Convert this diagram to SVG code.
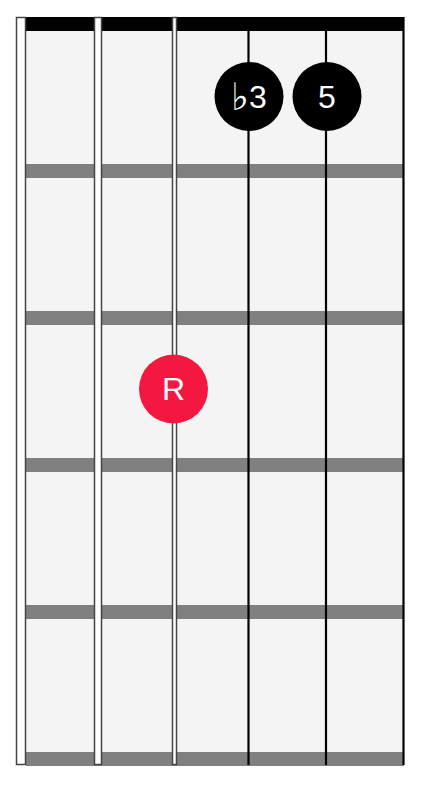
<svg xmlns="http://www.w3.org/2000/svg" width="426" height="786" viewBox="0 0 426 786">
<style>
.fret{fill:#808080}
.wound{fill:#ffffff;stroke:#444444;stroke-width:1.5}
.plain{stroke:#000000;stroke-width:2.2}
.lbl{fill:#ffffff;font-family:"Liberation Sans",Arial,sans-serif;font-size:32px;text-anchor:middle;dominant-baseline:central}
.flat{font-family:"DejaVu Sans",sans-serif;font-size:38px}
</style>
<rect width="426" height="786" fill="#ffffff"/>
<g id="board">
<rect x="26" y="17" width="378" height="749" fill="#f4f4f4"/>
<rect x="26" y="17" width="378" height="14" fill="#000000"/>
<rect class="fret" x="26" y="164" width="378" height="14"/>
<rect class="fret" x="26" y="311" width="378" height="14"/>
<rect class="fret" x="26" y="458" width="378" height="14"/>
<rect class="fret" x="26" y="605" width="378" height="14"/>
<rect class="fret" x="26" y="752" width="378" height="14"/>
</g>
<g id="strings">
<rect class="wound" x="16.5" y="17.5" width="9" height="747"/>
<rect class="wound" x="94.5" y="17.5" width="7" height="747"/>
<rect class="wound" x="172.5" y="17.5" width="4" height="747"/>
<line class="plain" x1="248.5" y1="17" x2="248.5" y2="765"/>
<line class="plain" x1="326" y1="17" x2="326" y2="765"/>
<line class="plain" x1="403.5" y1="17" x2="403.5" y2="765"/>
</g>
<g id="note-b3">
<circle cx="249" cy="96.5" r="34.5" fill="#000000"/>
<text class="lbl" x="249" y="96.5"><tspan class="flat">♭</tspan>3</text>
</g>
<g id="note-5">
<circle cx="327" cy="96.5" r="34.5" fill="#000000"/>
<text class="lbl" x="327" y="96.5">5</text>
</g>
<g id="note-R">
<circle cx="173.5" cy="389" r="34.5" fill="#f4173f"/>
<text class="lbl" x="173.5" y="389">R</text>
</g>
</svg>
